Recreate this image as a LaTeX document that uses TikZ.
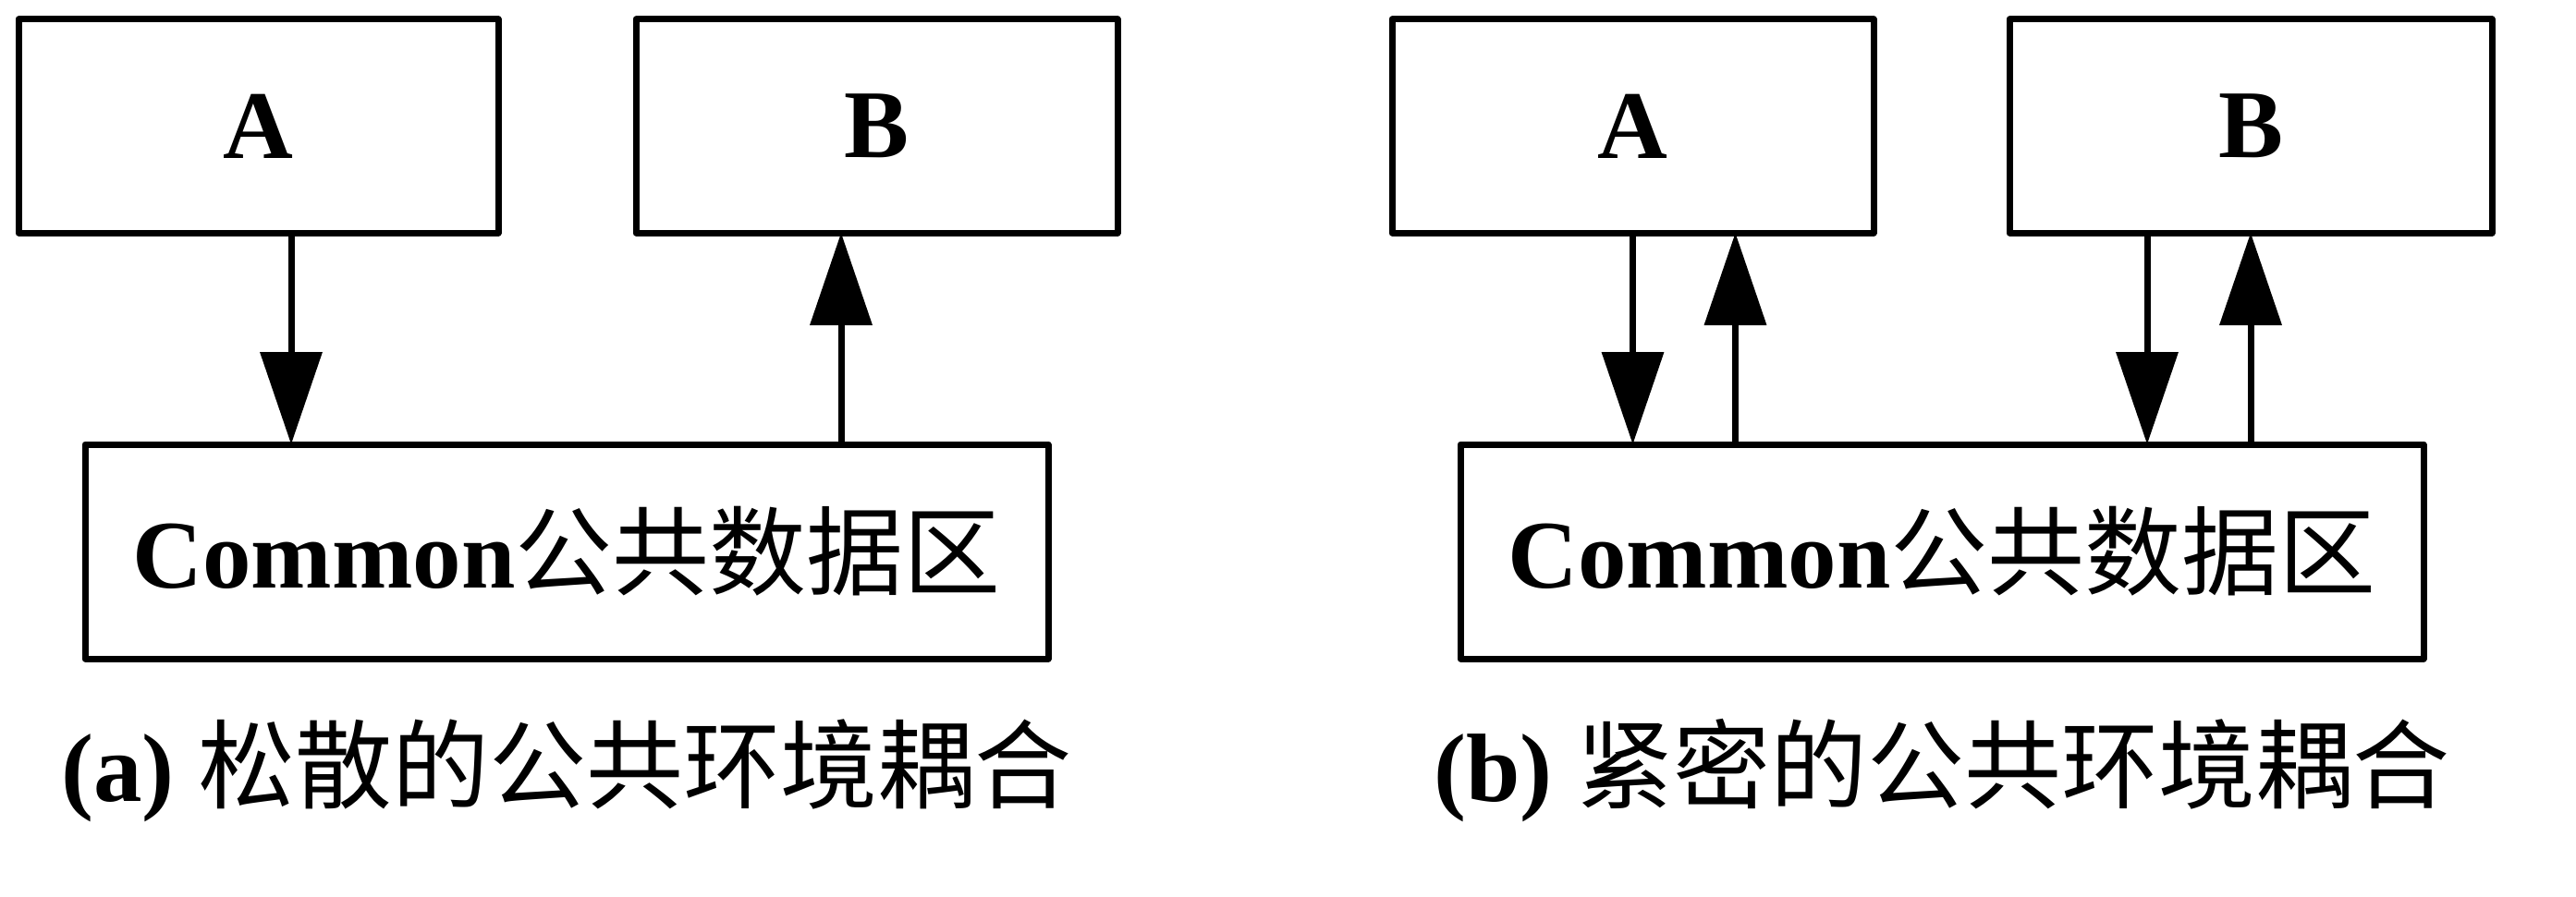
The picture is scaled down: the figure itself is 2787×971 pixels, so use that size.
\documentclass[tikz,border=0pt]{standalone}
\usepackage{fontspec}
\setmainfont{Liberation Serif}
\newfontfamily\cjk{Noto Sans CJK SC}
\usetikzlibrary{arrows.meta}
\tikzset{
  box/.style={draw, line width=7pt, line join=round, inner sep=0pt, outer sep=0pt,
    font=\fontsize{105pt}{110pt}\selectfont\bfseries},
  arr/.style={line width=7pt, -{Triangle[length=100pt,width=66pt]}},
  captext/.style={inner sep=0pt, font=\fontsize{105pt}{110pt}\selectfont}
}
\begin{document}
\begin{tikzpicture}[x=1pt,y=-1pt]
\useasboundingbox (0,0) rectangle (2787,971);
% (a)
\node[box, minimum width=519pt, minimum height=231pt] (A1) at (279.5,136.5) {A};
\node[box, minimum width=521pt, minimum height=231pt] (B1) at (948.5,136.5) {B};
\node[box, minimum width=1042pt, minimum height=232pt] (C1) at (613,597) {Common{\cjk\mdseries 公共数据区}};
\draw[arr] ([xshift=35.5pt]A1.south) -- ([xshift=35.5pt]A1.south |- C1.north);
\draw[arr] ([xshift=-38.5pt]B1.south |- C1.north) -- ([xshift=-38.5pt]B1.south);
\node[captext] (capa) at (613,834) {\textbf{(a)} {\cjk 松散的公共环境耦合}};
% (b)
\node[box, minimum width=521pt, minimum height=231pt] (A2) at (1766.5,136.5) {A};
\node[box, minimum width=522pt, minimum height=231pt] (B2) at (2435,136.5) {B};
\node[box, minimum width=1042pt, minimum height=232pt] (C2) at (2101,597) {Common{\cjk\mdseries 公共数据区}};
\draw[arr] (A2.south) -- (A2.south |- C2.north);
\draw[arr] ([xshift=111pt]A2.south |- C2.north) -- ([xshift=111pt]A2.south);
\draw[arr] ([xshift=-112pt]B2.south) -- ([xshift=-112pt]B2.south |- C2.north);
\draw[arr] (B2.south |- C2.north) -- (B2.south);
\node[captext] (capb) at (2101,834) {\textbf{(b)} {\cjk 紧密的公共环境耦合}};
\end{tikzpicture}
\end{document}
